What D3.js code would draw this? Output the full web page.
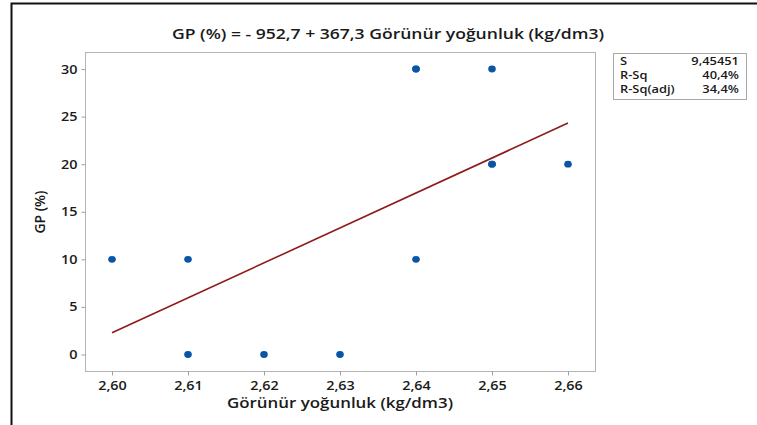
<!DOCTYPE html>
<html><head><meta charset="utf-8">
<script src="https://cdn.jsdelivr.net/npm/d3@7"></script>
<style>
html,body{margin:0;padding:0;background:#fff;}
svg{display:block;}
text{font-family:"Open Sans",sans-serif;fill:#1a1a1a;}
</style></head><body>
<script>
const xValues = [2.60, 2.61, 2.61, 2.62, 2.63, 2.64, 2.64, 2.64, 2.65, 2.65, 2.65, 2.66];
const yValues = [10, 10, 0, 0, 0, 30, 30, 10, 30, 20, 20, 20];
const xTicks = [2.60, 2.61, 2.62, 2.63, 2.64, 2.65, 2.66];
const yTicks = [0, 5, 10, 15, 20, 25, 30];
const intercept = -952.7, slope = 367.3;
const statLabels = ["S", "R-Sq", "R-Sq(adj)"];
const statValues = ["9,45451", "40,4%", "34,4%"];
const titleText = "GP (%) = - 952,7 + 367,3 Görünür yoğunluk (kg/dm3)";
const xLabel = "Görünür yoğunluk (kg/dm3)";
const yLabel = "GP (%)";

const W = 757, H = 425;
const svg = d3.select("body").append("svg").attr("width", W).attr("height", H);

function stretch(sel, f) {
  sel.each(function () {
    const len = this.getComputedTextLength();
    d3.select(this).attr("textLength", len * f).attr("lengthAdjust", "spacingAndGlyphs");
  });
}

// outer frame
svg.append("path").attr("d", `M11.5,${H} V3.5 H${W}`).attr("fill","none").attr("stroke","#111").attr("stroke-width",2);

const P = {l: 85.5, t: 52.5, r: 595.5, b: 371.5};
const x = d3.scaleLinear().domain([2.60, 2.66]).range([112, 568]);
const y = d3.scaleLinear().domain([0, 30]).range([354.5, 69]);
const fmt = d => d3.format(".2f")(d).replace(".", ",");

svg.append("rect").attr("x", P.l).attr("y", P.t).attr("width", P.r - P.l).attr("height", P.b - P.t)
  .attr("fill", "none").attr("stroke", "#b4b4b4").attr("stroke-width", 1);

const xAxis = svg.append("g").attr("transform", `translate(0,${P.b})`)
  .call(d3.axisBottom(x).tickValues(xTicks).tickFormat(fmt).tickSize(4).tickSizeOuter(0));
const yAxis = svg.append("g").attr("transform", `translate(${P.l},0)`)
  .call(d3.axisLeft(y).tickValues(yTicks).tickSize(4).tickSizeOuter(0));
[xAxis, yAxis].forEach(a => {
  a.select(".domain").remove();
  a.selectAll(".tick line").attr("stroke", "#a0a0a0");
  a.selectAll(".tick text").attr("font-family", '"Open Sans",sans-serif').attr("font-size", 12.5).attr("font-weight", 600).attr("fill", "#1a1a1a");
  stretch(a.selectAll(".tick text"), 1.15);
});
xAxis.selectAll(".tick text").attr("dy", "0.95em");
yAxis.selectAll(".tick text").attr("dx", "-1px");

// fit line
const lineData = [2.60, 2.66].map(v => [v, intercept + slope * v]);
svg.append("path").datum(lineData)
  .attr("d", d3.line().x(d => x(d[0])).y(d => y(d[1])))
  .attr("fill", "none").attr("stroke", "#8e1b1b").attr("stroke-width", 1.6);

// points
svg.append("g").selectAll("ellipse").data(xValues.map((v, i) => [v, yValues[i]])).join("ellipse")
  .attr("cx", d => x(d[0])).attr("cy", d => y(d[1])).attr("rx", 3.8).attr("ry", 3.4)
  .attr("fill", "#0a55a5");

// title & labels
svg.append("text").attr("x", 388).attr("y", 39).attr("text-anchor", "middle")
  .attr("font-size", 15).attr("font-weight", 600)
  .attr("textLength", 432).attr("lengthAdjust", "spacingAndGlyphs").text(titleText);
svg.append("text").attr("x", 340).attr("y", 408).attr("text-anchor", "middle")
  .attr("font-size", 14).attr("font-weight", 600)
  .attr("textLength", 226).attr("lengthAdjust", "spacingAndGlyphs").text(xLabel);
svg.append("text").attr("transform", "translate(45,212) rotate(-90)").attr("text-anchor", "middle")
  .attr("font-size", 14).attr("font-weight", 600)
  .attr("textLength", 43).attr("lengthAdjust", "spacingAndGlyphs").text(yLabel);

// stats box
svg.append("rect").attr("x", 613.5).attr("y", 53.5).attr("width", 133).attr("height", 46)
  .attr("fill", "#fff").attr("stroke", "#a8a8a8");
statLabels.forEach((s, i) => {
  const a = svg.append("text").attr("x", 620).attr("y", 65 + i * 14).attr("font-size", 11).attr("font-weight", 600).text(s);
  const b = svg.append("text").attr("x", 739).attr("y", 65 + i * 14).attr("text-anchor", "end").attr("font-size", 11).attr("font-weight", 600).text(statValues[i]);
  stretch(a, 1.17); stretch(b, 1.17);
});
</script></body></html>
